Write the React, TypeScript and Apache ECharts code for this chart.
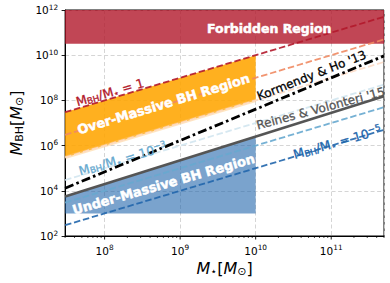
import React, { useEffect, useRef } from "react";
import * as echarts from "echarts";

// ---------- data ----------
const X_RANGE: [number, number] = [3e7, 5e11]; // stellar mass range (M_sun)
const Y_RANGE: [number, number] = [1e2, 1e12]; // black-hole mass range (M_sun)
const X_DECADES = [8, 9, 10, 11];
const MINOR_MULTIPLES = [2, 3, 4, 5, 6, 7, 8, 9];
const MINOR_DECADES = [7, 8, 9, 10, 11];

const RATIOS = [1, 1e-1, 1e-2, 1e-3, 1e-4, 1e-5];
const KORMENDY_HO_13: number[][] = [
  [3e7, 1.3e4],
  [5e11, 9.3e9],
];
const REINES_VOLONTERI_15: number[][] = [
  [3e7, 5.6e3],
  [5e11, 1.53e8],
];
const FORBIDDEN_MIN_BH = 3.2e10;
const REGION_MAX_STELLAR = 1e10;
const OVER_MASSIVE_RATIOS = [1, 1e-2];
const UNDER_MASSIVE_FLOOR = 1e3;
const RV15_AT_REGION_EDGE = 2.5e6;

// ---------- styles ----------
const FONT = "DejaVu Sans";
const RATIO_COLORS = ["#b2182b", "#ef8a62", "#fddbc7", "#d1e5f0", "#67a9cf", "#2166ac"];
const FORBIDDEN_FILL = "rgba(178,24,43,0.8)";
const OVER_FILL = "rgba(255,165,0,0.88)";
const OVER_EDGE = "rgba(255,200,120,0.45)";
const UNDER_FILL = "rgba(33,102,172,0.6)";

const L = Math.log10;

// annotation anchors in log10 data coordinates
const ANNOTATIONS = [
  { text: "Forbidden Region", at: [10.18, 11.2], rotate: 0, color: "#fff", size: 12.5, weight: "bold" },
  { text: "Over-Massive BH Region", at: [8.78, 7.84], rotate: 17, color: "#fff", size: 13, weight: "bold" },
  { text: "Under-Massive BH Region", at: [8.78, 4.29], rotate: 16, color: "#fff", size: 13, weight: "bold" },
  { text: "Kormendy & Ho '13", at: [10.74, 9.1], rotate: 21.5, color: "#000", size: 12, weight: "normal" },
  { text: "Reines & Volonteri '15", at: [10.86, 7.64], rotate: 15, color: "#555555", size: 12, weight: "normal" },
  { text: "{m|M}{s|BH}{m|/M}{s|⋆}{m| = 1}", at: [8.07, 8.36], rotate: 16, color: "#b2182b", size: 12.5, weight: "normal" },
  { text: "{m|M}{s|BH}{m|/M}{s|⋆}{m| = 10}{p|−3}", at: [8.24, 5.42], rotate: 16, color: "#67a9cf", size: 12.5, weight: "normal" },
  { text: "{m|M}{s|BH}{m|/M}{s|⋆}{m| = 10}{p|−5}", at: [11.08, 6.15], rotate: 16, color: "#2166ac", size: 12.5, weight: "normal" },
];

const toLog = (pts: number[][]) => pts.map(([x, y]) => [L(x), L(y)]);

const isInt = (v: number) => Math.abs(v - Math.round(v)) < 1e-6;

function polygonSeries(poly: number[][], fill: string, z: number) {
  const lp = toLog(poly);
  return {
    type: "custom",
    z,
    silent: true,
    data: [lp[0]],
    renderItem: (_p: any, api: any) => ({
      type: "polygon",
      shape: { points: lp.map((p) => api.coord(p)) },
      style: { fill, stroke: "none" },
    }),
  };
}

function buildOption() {
  const xMin = L(X_RANGE[0]);
  const xMax = L(X_RANGE[1]);
  const yMin = L(Y_RANGE[0]);
  const yMax = L(Y_RANGE[1]);

  const forbidden = [
    [X_RANGE[0], FORBIDDEN_MIN_BH],
    [X_RANGE[1], FORBIDDEN_MIN_BH],
    [X_RANGE[1], Y_RANGE[1]],
    [X_RANGE[0], Y_RANGE[1]],
  ];
  const over = [
    [X_RANGE[0], X_RANGE[0] * OVER_MASSIVE_RATIOS[0]],
    [REGION_MAX_STELLAR, REGION_MAX_STELLAR * OVER_MASSIVE_RATIOS[0]],
    [REGION_MAX_STELLAR, REGION_MAX_STELLAR * OVER_MASSIVE_RATIOS[1]],
    [X_RANGE[0], X_RANGE[0] * OVER_MASSIVE_RATIOS[1]],
  ];
  const under = [
    [X_RANGE[0], UNDER_MASSIVE_FLOOR],
    [REGION_MAX_STELLAR, UNDER_MASSIVE_FLOOR],
    [REGION_MAX_STELLAR, RV15_AT_REGION_EDGE],
    REINES_VOLONTERI_15[0],
  ];

  const ticks: number[][] = [];
  X_DECADES.forEach((d) => ticks.push([d, yMin, 1]));
  MINOR_DECADES.forEach((d) =>
    MINOR_MULTIPLES.forEach((m) => {
      const v = d + L(m);
      if (v >= xMin - 1e-6 && v <= xMax + 1e-6) ticks.push([v, yMin, 0]);
    })
  );

  const ratioSeries = RATIOS.map((r, i) => ({
    type: "line",
    z: 3,
    silent: true,
    symbol: "none",
    data: X_RANGE.map((x) => [L(x), L(x * r)]),
    lineStyle: { color: RATIO_COLORS[i], width: 1.8, type: [6.5, 2.8], opacity: 0.9 },
  }));

  const supRich = (size: number) => ({
    b: { fontSize: size, fontFamily: FONT, color: "#000" },
    s: { fontSize: size * 0.7, fontFamily: FONT, color: "#000", padding: [0, 0, 6, 0] },
  });

  const nameRich = {
    i: { fontSize: 16, fontStyle: "italic", fontFamily: FONT, color: "#000" },
    n: { fontSize: 16, fontFamily: FONT, color: "#000" },
    s: { fontSize: 11, fontFamily: FONT, color: "#000", padding: [6, 0, 0, 0] },
  };

  return {
    animation: false,
    grid: {
      left: 60,
      right: 6,
      top: 10,
      bottom: 47,
      show: true,
      borderColor: "#000",
      borderWidth: 1,
      backgroundColor: "transparent",
    },
    xAxis: {
      type: "value",
      min: xMin,
      max: xMax,
      axisLine: { show: true, lineStyle: { color: "#000", width: 1 } },
      axisTick: { show: false },
      splitLine: { show: true, lineStyle: { color: "#d0d0d0", type: [4, 2.5], width: 0.9 } },
      axisLabel: {
        margin: 8,
        formatter: (v: number) => (isInt(v) ? `{b|10}{s|${Math.round(v)}}` : ""),
        rich: supRich(10.5),
      },
      name: "{i|M}{s|⋆}{n|[}{i|M}{s|⊙}{n|]}",
      nameLocation: "middle",
      nameGap: 19,
      nameTextStyle: { fontFamily: FONT, fontSize: 16, color: "#000", rich: nameRich },
    },
    yAxis: {
      type: "value",
      min: yMin,
      max: yMax,
      interval: 2,
      axisLine: { show: true, lineStyle: { color: "#000", width: 1 } },
      axisTick: { show: true, length: 3.5, lineStyle: { color: "#000", width: 0.9 } },
      splitLine: { show: true, lineStyle: { color: "#d0d0d0", type: [4, 2.5], width: 0.9 } },
      axisLabel: {
        margin: 7,
        formatter: (v: number) => (isInt(v) ? `{b|10}{s|${Math.round(v)}}` : ""),
        rich: supRich(10.5),
      },
      name: "{i|M}{s|BH}{n|[}{i|M}{s|⊙}{n|]}",
      nameLocation: "middle",
      nameRotate: 90,
      nameGap: 39,
      nameTextStyle: { fontFamily: FONT, fontSize: 16, color: "#000", rich: nameRich },
    },
    series: [
      polygonSeries(forbidden, FORBIDDEN_FILL, 1),
      polygonSeries(over, OVER_FILL, 1),
      polygonSeries(under, UNDER_FILL, 1),
      {
        type: "line",
        z: 2,
        silent: true,
        symbol: "none",
        data: toLog([over[3], over[2]]),
        lineStyle: { color: OVER_EDGE, width: 3.5 },
      },
      ...ratioSeries,
      {
        type: "line",
        z: 4,
        silent: true,
        symbol: "none",
        data: toLog(REINES_VOLONTERI_15),
        lineStyle: { color: "#555555", width: 2.6, type: "solid" },
      },
      {
        type: "line",
        z: 4,
        silent: true,
        symbol: "none",
        data: toLog(KORMENDY_HO_13),
        lineStyle: { color: "#000", width: 2.8, type: [9, 3.2, 2.6, 3.2] },
      },
      {
        type: "custom",
        z: 5,
        silent: true,
        clip: false,
        data: ticks,
        renderItem: (_p: any, api: any) => {
          const pt = api.coord([api.value(0), api.value(1)]);
          const major = api.value(2) === 1;
          return {
            type: "line",
            shape: { x1: pt[0], y1: pt[1], x2: pt[0], y2: pt[1] + (major ? 3.5 : 2) },
            style: { stroke: "#000", lineWidth: major ? 0.9 : 0.7 },
          };
        },
      },
      {
        type: "custom",
        z: 10,
        silent: true,
        clip: false,
        data: ANNOTATIONS.map((a) => a.at),
        renderItem: (p: any, api: any) => {
          const a = ANNOTATIONS[p.dataIndex];
          const pt = api.coord(a.at);
          const sw = a.weight === "bold" ? 0.5 : 0.3;
          return {
            type: "text",
            x: pt[0],
            y: pt[1],
            rotation: (a.rotate * Math.PI) / 180,
            style: {
              text: a.text,
              fill: a.color,
              stroke: a.color,
              lineWidth: sw,
              fontSize: a.size,
              fontWeight: a.weight,
              fontFamily: FONT,
              align: "center",
              verticalAlign: "middle",
              rich: {
                m: { fontSize: a.size, fill: a.color, stroke: a.color, lineWidth: sw, fontFamily: FONT },
                s: { fontSize: a.size * 0.7, fill: a.color, stroke: a.color, lineWidth: sw, fontFamily: FONT, padding: [5, 0, 0, 0] },
                p: { fontSize: a.size * 0.7, fill: a.color, stroke: a.color, lineWidth: sw, fontFamily: FONT, padding: [0, 0, 6, 0] },
              },
            },
          };
        },
      },
    ],
  };
}

export default function App() {
  const ref = useRef<HTMLDivElement>(null);
  useEffect(() => {
    const chart = echarts.init(ref.current!, undefined, { renderer: "svg" });
    chart.setOption(buildOption() as any);
    return () => chart.dispose();
  }, []);
  return (
    <div
      ref={ref}
      style={{ position: "absolute", left: 0, top: 0, width: 390, height: 283, background: "#fff" }}
    />
  );
}
